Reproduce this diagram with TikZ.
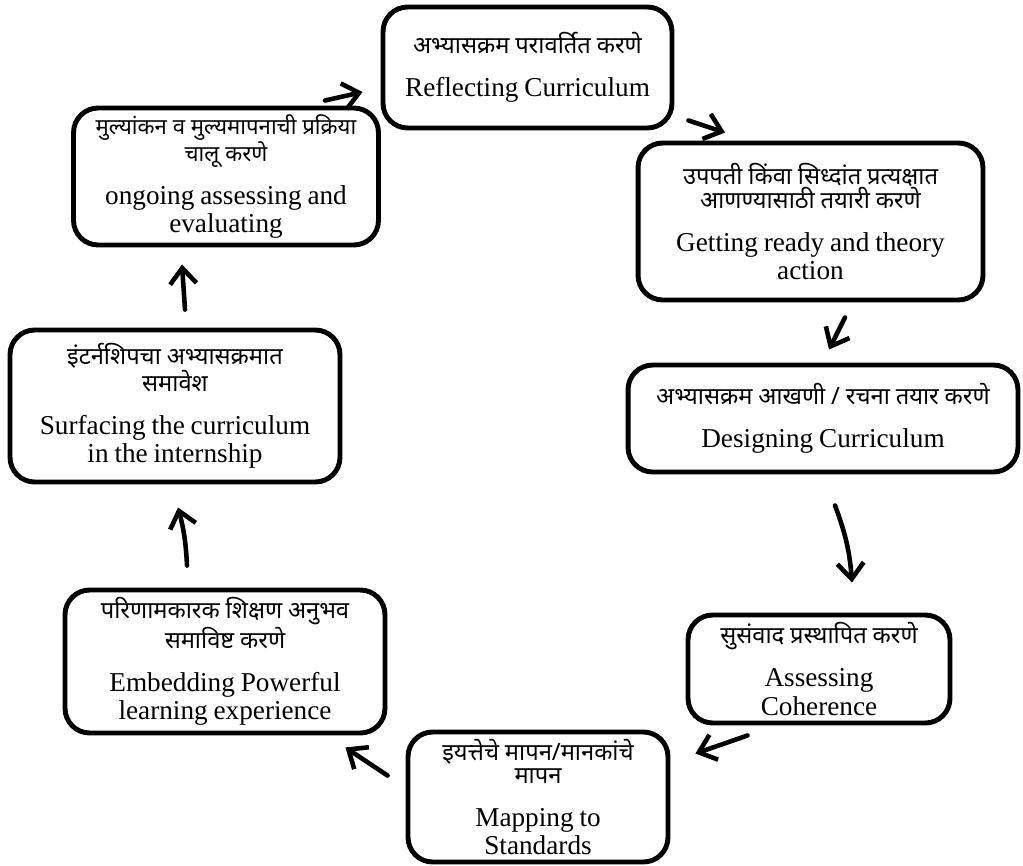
\documentclass[tikz,border=0pt]{standalone}
\usepackage{fontspec}
\setmainfont{Liberation Serif}
\newfontfamily\devfont[Script=Devanagari]{Noto Sans}
\usetikzlibrary{calc,arrows.meta}
\newcommand{\mar}{\devfont\fontsize{13.5}{13.5}\selectfont}
\newcommand{\eng}{\rmfamily\fontsize{15.5}{16}\selectfont}
\newcommand{\twotext}[2]{{\mar #1\par}\vspace{8.5pt}{\eng #2\par}}
\tikzset{
    stage/.style={draw, line width=2.8pt, rounded corners=14pt, align=center, inner sep=0pt},
    flow/.style={line width=2.6pt, line cap=round, -{Straight Barb[length=9pt,width=15pt]}},
  }

\begin{document}
\begin{tikzpicture}[x=0.02cm,y=-0.02cm]
	%CADRE
	\useasboundingbox (0,0) rectangle (1023,865);
	%ETAPES
	\node[stage, minimum width=5.78cm, minimum height=2.42cm, text width=5.5cm] (refl) at (527.5,67.5)
		{\twotext{अभ्यासक्रम परावर्तित करणे}{Reflecting Curriculum}};
	\node[stage, minimum width=6.1cm, minimum height=2.74cm, text width=5.9cm] (eval) at (226,176.5)
		{\twotext{\fontsize{12.6}{13.5}\selectfont मुल्यांकन व मुल्यमापनाची प्रक्रिया\\चालू करणे}{ongoing assessing and\\evaluating}};
	\node[stage, minimum width=6.9cm, minimum height=3.14cm, text width=6.7cm] (ready) at (810.5,221.5)
		{\twotext{उपपती किंवा सिध्दांत प्रत्यक्षात\\आणण्यासाठी तयारी करणे}{Getting ready and theory\\action}};
	\node[stage, minimum width=6.6cm, minimum height=3.04cm, text width=6.4cm] (surf) at (175,406)
		{\twotext{इंटर्नशिपचा अभ्यासक्रमात\\समावेश}{Surfacing the curriculum\\in the internship}};
	\node[stage, minimum width=7.8cm, minimum height=2.14cm, text width=7.6cm] (design) at (823,418.5)
		{\twotext{अभ्यासक्रम आखणी / रचना तयार करणे}{Designing Curriculum}};
	\node[stage, minimum width=5.24cm, minimum height=2.16cm, text width=5cm] (coher) at (819,669)
		{\twotext{सुसंवाद प्रस्थापित करणे}{Assessing\\Coherence}};
	\node[stage, minimum width=5.2cm, minimum height=2.6cm, text width=5cm] (mapping) at (538,797)
		{\twotext{इयत्तेचे मापन/मानकांचे\\मापन}{Mapping to\\Standards}};
	\node[stage, minimum width=6.4cm, minimum height=2.86cm, text width=6.2cm] (embed) at (225,661.5)
		{\twotext{परिणामकारक शिक्षण अनुभव\\समाविष्ट करणे}{Embedding Powerful\\learning experience}};
	%FLECHES
	\draw[flow] ($(eval.north east)+(-56,-5)$) -- ($(refl.west)+(-18,24.5)$);
	\draw[flow] ($(refl.south east)+(14,-10)$) -- ($(ready.north)+(-85.5,-8)$);
	\draw[flow] ($(ready.south)+(34.5,15)$) -- ($(design.north)+(6,-13)$);
	\draw[flow] ($(design.south)+(12,31)$) to[bend left=8] ($(coher.north)+(33,-30)$);
	\draw[flow] ($(coher.south west)+(62,10)$) -- ($(mapping.north east)+(25,24)$);
	\draw[flow] ($(mapping.north west)+(-18,46)$) -- ($(embed.south east)+(-42,12)$);
	\draw[flow] ($(embed.north)+(-38,-22)$) to[bend right=6] ($(surf.south)+(3,23)$);
	\draw[flow] ($(surf.north)+(10,-18)$) -- ($(eval.south)+(-44,17)$);
\end{tikzpicture}
\end{document}
